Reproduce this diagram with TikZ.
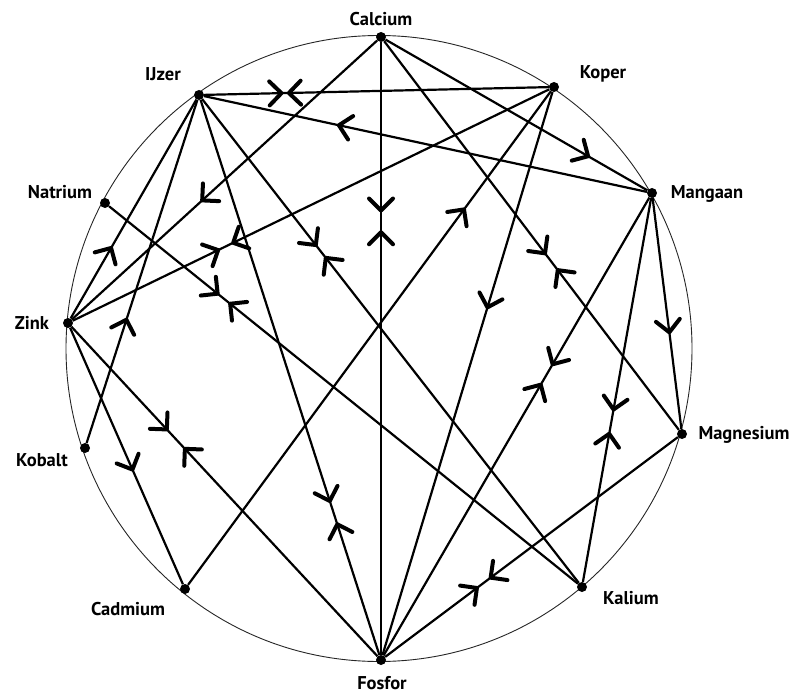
\documentclass[tikz,border=0pt]{standalone}
\usepackage{fontspec}
\setmainfont{PT Sans}
\usetikzlibrary{arrows.meta,decorations.markings}
\begin{document}
\begin{tikzpicture}[x=1pt,y=-1pt,
  dot/.style={circle,fill=black,inner sep=0pt,minimum size=10pt},
  lbl/.style={font=\bfseries\fontsize{18.5}{20}\selectfont,inner sep=0pt},
  edge/.style={line width=2.2pt},
  tipS/.tip={Straight Barb[length=12pt,width=24pt,line width=4pt,round]},
  fwd/.style={postaction={decorate,decoration={markings,mark=at position #1 with {\arrow{tipS}}}}},
  rev/.style={postaction={decorate,decoration={markings,mark=at position #1 with {\arrowreversed{tipS}}}}},
]
\useasboundingbox (0,0) rectangle (797,695);
\coordinate (c) at (379,348.5);
\draw[line width=0.9pt,black!85] (c) circle[radius=313];

\node[dot] (Ca) at (381,37) {};
\node[dot] (Ko) at (554,87) {};
\node[dot] (IJ) at (199,95) {};
\node[dot] (Mn) at (652,193) {};
\node[dot] (Na) at (105,203) {};
\node[dot] (Zn) at (68,323) {};
\node[dot] (Mg) at (682,434) {};
\node[dot] (Kb) at (85,448) {};
\node[dot] (K) at (582,587) {};
\node[dot] (Cd) at (185,589) {};
\node[dot] (P) at (381,660) {};

\node[lbl] (tCa) at (381,19) {Calcium};
\node[lbl] (tIJ) at (163,74) {IJzer};
\node[lbl] (tKo) at (603,74) {Koper};
\node[lbl] (tNa) at (60,192) {Natrium};
\node[lbl] (tMn) at (707,194) {Mangaan};
\node[lbl] (tZn) at (32,323) {Zink};
\node[lbl] (tMg) at (744,435) {Magnesium};
\node[lbl] (tKb) at (42,460) {Kobalt};
\node[lbl] (tCd) at (128,609) {Cadmium};
\node[lbl] (tK) at (631,598) {Kalium};
\node[lbl] (tP) at (382,683) {Fosfor};

\draw[edge,fwd=0.23,rev=0.24] (IJ) -- (Ko);
\draw[edge,rev=0.30] (IJ) -- (Mn);
\draw[edge,fwd=0.33] (Zn) -- (IJ);
\draw[edge,fwd=0.365] (Kb) -- (IJ);
\draw[edge,fwd=0.305,rev=0.325] (IJ) -- (K);
\draw[edge,fwd=0.726,rev=0.761] (IJ) -- (P);
\draw[edge,fwd=0.578] (Ca) -- (Zn);
\draw[edge,fwd=0.278,rev=0.307] (Ca) -- (P);
\draw[edge,fwd=0.309,rev=0.333] (Zn) -- (Ko);
\draw[edge,fwd=0.235,rev=0.255] (Na) -- (K);
\draw[edge,fwd=0.56] (Zn) -- (Cd);
\draw[edge,fwd=0.316,rev=0.366] (Zn) -- (P);
\draw[edge,fwd=0.78] (Ca) -- (Mn);
\draw[edge,fwd=0.55,rev=0.585] (Ca) -- (Mg);
\draw[edge,fwd=0.764] (Cd) -- (Ko);
\draw[edge,fwd=0.386] (Ko) -- (P);
\draw[edge,fwd=0.368,rev=0.405] (Mn) -- (P);
\draw[edge,fwd=0.556,rev=0.609] (Mn) -- (K);
\draw[edge,fwd=0.59] (Mn) -- (Mg);
\draw[edge,fwd=0.319,rev=0.355] (P) -- (Mg);
\end{tikzpicture}
\end{document}
